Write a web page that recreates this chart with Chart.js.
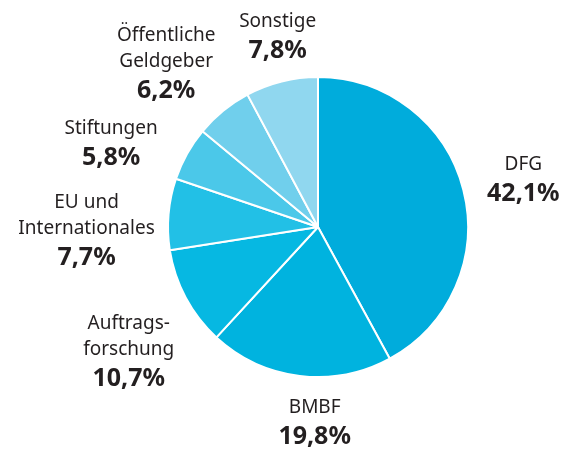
<!DOCTYPE html>
<html>
<head>
<meta charset="utf-8">
<script src="https://cdn.jsdelivr.net/npm/chart.js@4"></script>
<style>
  html, body { margin: 0; padding: 0; background: #fff; }
  #wrap { width: 567px; height: 452px; }
</style>
</head>
<body>
<div id="wrap"><canvas id="pie_chart" width="567" height="452"></canvas></div>
<script>
// Drittmittel shares, clockwise from 12 o'clock
const names = [['DFG'], ['BMBF'], ['Auftrags-', 'forschung'], ['EU und', 'Internationales'], ['Stiftungen'], ['Öffentliche', 'Geldgeber'], ['Sonstige']];
const shares = [42.1, 19.8, 10.7, 7.7, 5.8, 6.2, 7.8];
const shareLabels = ['42,1%', '19,8%', '10,7%', '7,7%', '5,8%', '6,2%', '7,8%'];
const sliceColors = ['#00acdc', '#00b3df', '#06b8e2', '#22c0e6', '#4bc8e9', '#70cfec', '#90d7ef'];
// label block centre, offset from the outer midpoint of its slice
const labelOffset = [[60, -9], [15, 48], [-57, 55], [-82, 18], [-76, -9], [-57, -46], [-4, -44]];

const sliceLabels = {
  id: 'sliceLabels',
  afterDatasetsDraw(chart) {
    const ctx = chart.ctx;
    const arcs = chart.getDatasetMeta(0).data;
    ctx.save();
    ctx.fillStyle = '#231f20';
    ctx.textAlign = 'center';
    ctx.textBaseline = 'middle';
    arcs.forEach(function(arc, i){
      const mid = (arc.startAngle + arc.endAngle) / 2;
      const cx = arc.x + Math.cos(mid) * arc.outerRadius + labelOffset[i][0];
      const cy = arc.y + Math.sin(mid) * arc.outerRadius + labelOffset[i][1];
      const lines = names[i];
      const lh = 26, ph = 32;
      const total = lines.length * lh + ph;
      let y = cy - total / 2 + lh / 2;
      ctx.font = '19px "Noto Sans"';
      lines.forEach(function(t){ ctx.fillText(t, cx, y); y += lh; });
      ctx.font = 'bold 25px "Noto Sans"';
      ctx.fillText(shareLabels[i], cx, y + (ph - lh) / 2);
    });
    ctx.restore();
  }
};

new Chart(document.getElementById('pie_chart').getContext('2d'), {
  type: 'pie',
  data: {
    labels: names.map(n => n.join(' ')),
    datasets: [{ data: shares, backgroundColor: sliceColors, borderColor: '#ffffff', borderWidth: 2 }]
  },
  options: {
    responsive: false,
    animation: false,
    layout: { padding: { left: 167, right: 98, top: 76, bottom: 74 } },
    plugins: { legend: { display: false }, tooltip: { enabled: false } }
  },
  plugins: [sliceLabels]
});
</script>
</body>
</html>
